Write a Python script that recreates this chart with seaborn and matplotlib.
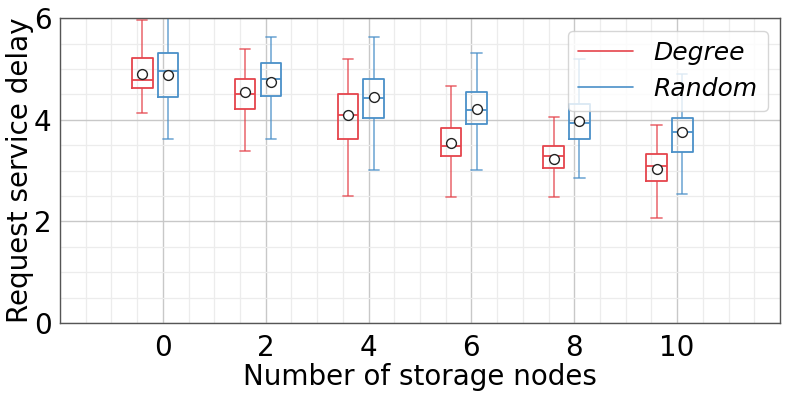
import pandas as pd
import numpy as np
import matplotlib
matplotlib.use("Agg")
import matplotlib.pyplot as plt
from matplotlib.lines import Line2D
from matplotlib.ticker import MultipleLocator
import seaborn as sns

# 数据（从图上读取的箱线图统计量）
nodes = [0, 2, 4, 6, 8, 10]
methods = ["Degree", "Random"]

degree_low = [4.13, 3.38, 2.50, 2.49, 2.49, 2.06]
degree_q1 = [4.63, 4.22, 3.63, 3.29, 3.06, 2.79]
degree_med = [4.79, 4.51, 4.09, 3.48, 3.29, 3.10]
degree_q3 = [5.21, 4.81, 4.50, 3.84, 3.49, 3.32]
degree_high = [5.96, 5.40, 5.19, 4.66, 4.05, 3.89]
degree_mean = [4.90, 4.55, 4.09, 3.54, 3.23, 3.04]

random_low = [3.63, 3.63, 3.02, 3.02, 2.85, 2.55]
random_q1 = [4.45, 4.46, 4.04, 3.91, 3.62, 3.36]
random_med = [4.96, 4.81, 4.42, 4.20, 3.93, 3.76]
random_q3 = [5.31, 5.11, 4.81, 4.54, 4.31, 4.03]
random_high = [6.30, 5.63, 5.63, 5.32, 5.19, 4.91]
random_mean = [4.89, 4.75, 4.45, 4.21, 3.97, 3.76]

colors = {"Degree": "#e5444c", "Random": "#4a90c8"}
offsets = {"Degree": -0.4, "Random": 0.1}

stats = {
    "Degree": [degree_low, degree_q1, degree_med, degree_q3, degree_high],
    "Random": [random_low, random_q1, random_med, random_q3, random_high],
}
means = {"Degree": degree_mean, "Random": random_mean}

rows = []
mean_rows = []
for m in methods:
    for i, n in enumerate(nodes):
        for s in stats[m]:
            rows.append({"pos": n + offsets[m], "delay": s[i], "method": m})
        mean_rows.append({"pos": n + offsets[m], "delay": means[m][i]})
df = pd.DataFrame(rows)
df_mean = pd.DataFrame(mean_rows)

sns.set_style("whitegrid")
plt.rcParams["font.family"] = ["DejaVu Sans"]
plt.rcParams["text.color"] = "black"
plt.rcParams["axes.labelcolor"] = "black"

fig, ax = plt.subplots(figsize=(7.89, 3.95), dpi=100)
fig.subplots_adjust(left=0.076, right=0.9886, top=0.954, bottom=0.182)

sns.boxplot(data=df, x="pos", y="delay", hue="method", palette=colors,
            native_scale=True, dodge=False, width=0.8, whis=(0, 100),
            fill=False, showfliers=False, linewidth=1.3, legend=False,
            whiskerprops=dict(alpha=0.7), capprops=dict(alpha=0.7), ax=ax)

sns.scatterplot(data=df_mean, x="pos", y="delay", color="white",
                edgecolor="#222222", linewidth=1.0, s=50, zorder=5,
                legend=False, ax=ax)

ax.set_xlim(-2, 12)
ax.set_ylim(0, 6)
ax.xaxis.set_major_locator(MultipleLocator(2))
ax.xaxis.set_minor_locator(MultipleLocator(0.5))
ax.yaxis.set_major_locator(MultipleLocator(2))
ax.yaxis.set_minor_locator(MultipleLocator(0.5))
ax.set_xticks(nodes)
ax.grid(which="major", color="#c8c8c8", linewidth=1.0)
ax.grid(which="minor", color="#ececec", linewidth=0.9)
ax.set_axisbelow(True)
ax.tick_params(which="both", direction="out", length=4, width=0.8,
               colors="#555555", labelcolor="black", labelsize=20)
ax.tick_params(axis="y", pad=2)
for sp in ax.spines.values():
    sp.set_color("#555555")
    sp.set_linewidth(1.0)

ax.set_xlabel("Number of storage nodes", fontsize=20, labelpad=1)
ax.set_ylabel("Request service delay", fontsize=20, labelpad=0)

handles = [Line2D([0], [0], color=colors[m], lw=1.2) for m in methods]
ax.legend(handles, methods, loc="upper right", prop={"size": 18, "style": "italic"},
          framealpha=0.8, handlelength=2.2, borderaxespad=0.5)

plt.savefig("out.png", dpi=100)
